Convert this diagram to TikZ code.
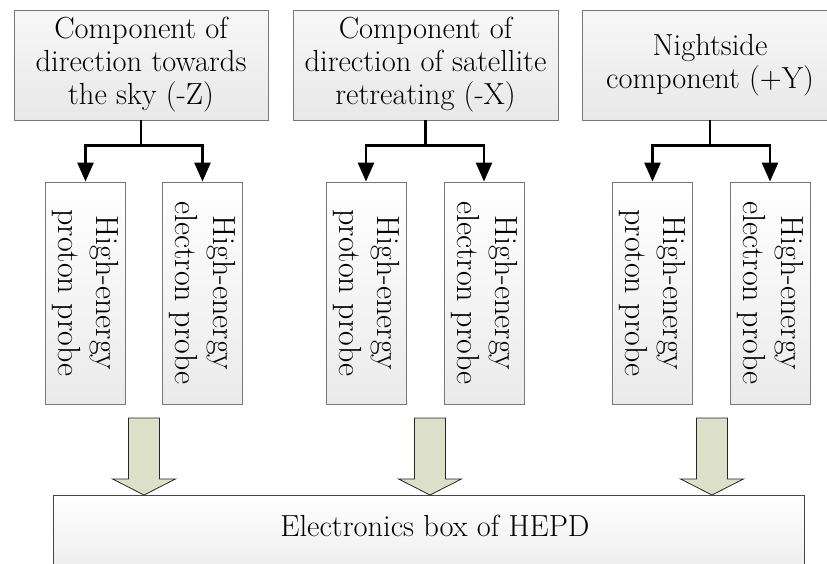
\documentclass[tikz,border=0pt]{standalone}
\usepackage{graphicx}
\usetikzlibrary{arrows.meta}
\definecolor{arrowfill}{RGB}{220,224,200}
\definecolor{boxline}{RGB}{120,120,120}
\definecolor{botline}{RGB}{70,70,70}
\begin{document}
\begin{tikzpicture}[x=1pt,y=-1pt,
  topbox/.style={draw=boxline, line width=0.9pt, top color=white!97!black, bottom color=black!9,
    minimum height=110pt, align=center, inner sep=0pt, font=\fontsize{30.5}{33}\selectfont},
  probebox/.style={draw=boxline, line width=0.9pt, top color=white, bottom color=black!8,
    minimum width=80pt, minimum height=222pt, inner sep=0pt, font=\fontsize{32}{38}\selectfont},
  botbox/.style={draw=botline, line width=0.9pt, top color=white, bottom color=black!7,
    minimum width=751pt, minimum height=75pt, inner sep=0pt, text height=19pt, text depth=11pt,
    font=\fontsize{30.5}{33}\selectfont},
  conn/.style={draw=black, line width=2.7pt, -{Triangle[length=19pt,width=16pt]}},
  barrow/.style={draw=black!85, line width=0.8pt, fill=arrowfill, line join=miter}
]
\useasboundingbox (0,0) rectangle (827,563);
\clip (0,0) rectangle (827,563);

% top boxes
\node[topbox, minimum width=254pt] (t1) at (141,65) {Component of\\direction towards\\the sky (-Z)};
\node[topbox, minimum width=265pt] (t2) at (425.5,65) {Component of\\direction of satellite\\retreating (-X)};
\node[topbox, minimum width=256pt] (t3) at (710,65) {Nightside\\component (+Y)};

% probe boxes
\newcommand{\probetext}[1]{\rotatebox{-90}{\begin{tabular}{@{}c@{}}High-energy\\#1 probe\end{tabular}}}
\node[probebox] (p1a) at (85.5,293) {\probetext{proton}};
\node[probebox] (p1b) at (202.5,293) {\probetext{electron}};
\node[probebox] (p2a) at (366,293) {\probetext{proton}};
\node[probebox] (p2b) at (484,293) {\probetext{electron}};
\node[probebox] (p3a) at (652.5,293) {\probetext{proton}};
\node[probebox] (p3b) at (770,293) {\probetext{electron}};

% bottom box
\node[botbox] (bot) at (428.5,532.5) {\hspace*{13pt}Electronics box of HEPD};

% connectors
\draw[conn] (t1.south) -- ++(0,25) -| (p1a.north);
\draw[conn] (t1.south) -- ++(0,25) -| (p1b.north);
\draw[conn] (t2.south) -- ++(0,25) -| (p2a.north);
\draw[conn] (t2.south) -- ++(0,25) -| (p2b.north);
\draw[conn] (t3.south) -- ++(0,25) -| (p3a.north);
\draw[conn] (t3.south) -- ++(0,25) -| (p3b.north);

% block arrows
\foreach \cx in {144,430,712}{
  \draw[barrow, shift={(\cx,0)}] (-15.5,418) -- (15.5,418) -- (15.5,479) -- (31.5,479)
    -- (0,495) -- (-31.5,479) -- (-15.5,479) -- cycle;
}
\end{tikzpicture}
\end{document}
